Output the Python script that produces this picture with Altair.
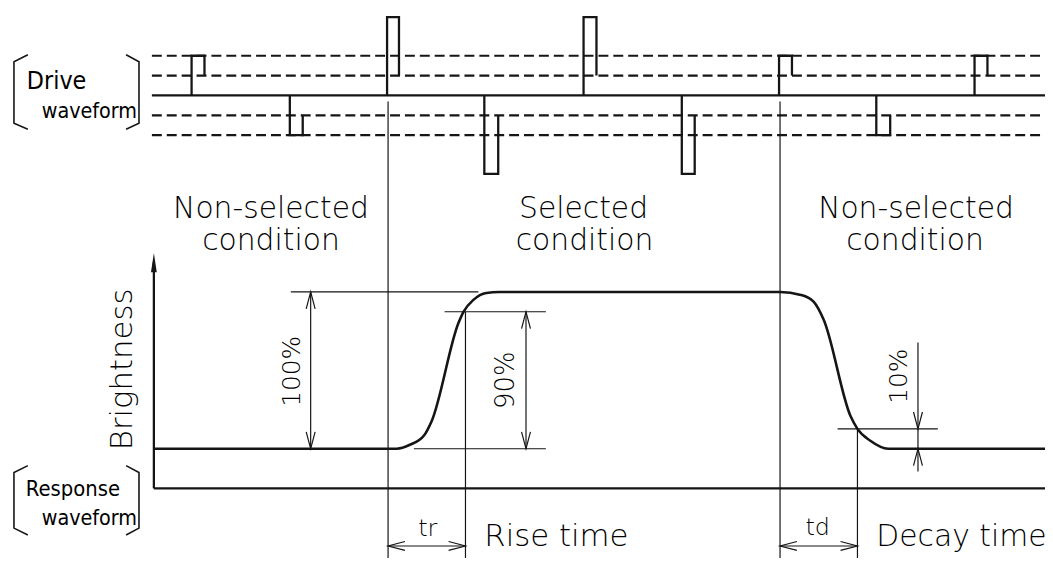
import altair as alt
import pandas as pd

# ---------------- diagram data (diagram units = picture coordinates) -------------
# Drive waveform
drive_x_start = 153
x_end = 1053
drive_base = 94
dash_levels = [54, 74, 114, 134]

# pulses: rising edge x, falling edge x, peak level, level after pulse
pulse_x0 = [193, 292, 390, 488, 588, 687, 785, 883, 982]
pulse_x1 = [206, 305, 402, 502, 601, 700, 798, 897, 995]
pulse_peak = [54, 134, 15, 173, 15, 173, 54, 134, 54]
pulse_settle = [74, 114, 74, 114, 74, 114, 74, 114, 74]

# Response waveform (brightness)
resp_x = [155, 400, 413, 427, 435, 462, 467, 477, 490, 503, 786, 807, 820, 830,
          857, 864, 877, 895, 1053]
resp_y = [450, 450, 446, 437, 422, 323, 312, 300, 293, 292, 292, 295, 302, 320,
          417, 430, 442, 450, 450]

# axes of the response plot
axis_x0 = 155
axis_base = 490
axis_top = 262
arrow_tip_y = 262.5

# brackets round the side labels
bracket_l_x = [28, 14, 14, 28]
bracket_r_x = [127, 140, 140, 127]
bracket_drive_y = [53, 60, 122, 128]
bracket_resp_y = [467, 474, 530, 537]

# thin construction / dimension lines: (x list, y list)
thin_lines = [
    ([391, 391], [100, 566]),   # selection start
    ([786, 786], [100, 566]),   # selection end
    ([469, 469], [312, 566]),   # tr end
    ([864, 864], [430, 566]),   # td end
    ([293, 482], [292, 292]),   # 100 % level
    ([417, 550], [450, 450]),   # 0 % level
    ([448, 550], [312, 312]),   # 90 % level
    ([844, 945], [430, 430]),   # 10 % level
    ([313, 313], [292, 450]),   # 100 % dimension
    ([530, 530], [312, 450]),   # 90 % dimension
    ([925, 925], [343, 473]),   # 10 % dimension
    ([391, 469], [548, 548]),   # tr dimension
    ([786, 864], [548, 548]),   # td dimension
]
# open arrow heads: (tip x, tip y, direction)
arrow_tips = [
    (313, 292, "up"), (313, 450, "down"),
    (530, 312, "up"), (530, 450, "down"),
    (925, 430, "down"), (925, 450, "up"),
    (391, 548, "left"), (469, 548, "right"),
    (786, 548, "left"), (864, 548, "right"),
]
head_len = 17
head_half = 4.5

NARROW = "Liberation Sans Narrow, DejaVu Sans Condensed, DejaVu Sans"
MAIN = "DejaVu Sans"
# labels: text, x, y, size, angle, align, baseline, font
labels = [
    ("Drive", 27, 88, 25, 0, "left", "alphabetic", NARROW),
    ("waveform", 42, 117, 21.5, 0, "left", "alphabetic", NARROW),
    ("Response", 26, 498, 22, 0, "left", "alphabetic", NARROW),
    ("waveform", 42, 527, 21.5, 0, "left", "alphabetic", NARROW),
    ("Non-selected", 273, 217, 30, 0, "center", "alphabetic", MAIN),
    ("condition", 273, 250, 30, 0, "center", "alphabetic", MAIN),
    ("Selected", 588, 217, 30, 0, "center", "alphabetic", MAIN),
    ("condition", 589, 250, 30, 0, "center", "alphabetic", MAIN),
    ("Non-selected", 923, 217, 30, 0, "center", "alphabetic", MAIN),
    ("condition", 922, 250, 30, 0, "center", "alphabetic", MAIN),
    ("Brightness", 124, 370, 31, 270, "center", "middle", MAIN),
    ("100%", 294, 372, 25, 270, "center", "middle", MAIN),
    ("90%", 510, 381, 26, 270, "center", "middle", MAIN),
    ("10%", 906, 377, 25, 270, "center", "middle", MAIN),
    ("tr", 431, 538, 24, 0, "center", "alphabetic", MAIN),
    ("td", 824, 537, 24, 0, "center", "alphabetic", MAIN),
    ("Rise time", 488, 548, 31, 0, "left", "alphabetic", MAIN),
    ("Decay time", 883, 548, 30, 0, "left", "alphabetic", MAIN),
]

# ---------------- build tables -------------
def polyline_rows(rows, pid, xs, ys):
    for i, (xv, yv) in enumerate(zip(xs, ys)):
        rows.append({"id": pid, "ord": i, "x": xv, "y": yv})

thick_rows = []
polyline_rows(thick_rows, "base", [drive_x_start, x_end], [drive_base, drive_base])
for k, (a, b, p, s) in enumerate(zip(pulse_x0, pulse_x1, pulse_peak, pulse_settle)):
    polyline_rows(thick_rows, f"pulse{k}", [a, a, b, b], [drive_base, p, p, s])
polyline_rows(thick_rows, "yaxis", [axis_x0, axis_x0], [axis_top, axis_base])
polyline_rows(thick_rows, "xaxis", [axis_x0, x_end], [axis_base, axis_base])
thick_df = pd.DataFrame(thick_rows)

dash_rows = []
for k, lv in enumerate(dash_levels):
    polyline_rows(dash_rows, f"dash{k}", [drive_x_start, x_end], [lv, lv])
dash_df = pd.DataFrame(dash_rows)

bracket_rows = []
polyline_rows(bracket_rows, "dl", bracket_l_x, bracket_drive_y)
polyline_rows(bracket_rows, "dr", bracket_r_x, bracket_drive_y)
polyline_rows(bracket_rows, "rl", bracket_l_x, bracket_resp_y)
polyline_rows(bracket_rows, "rr", bracket_r_x, bracket_resp_y)
bracket_df = pd.DataFrame(bracket_rows)

thin_rows = []
for k, (xs, ys) in enumerate(thin_lines):
    polyline_rows(thin_rows, f"t{k}", xs, ys)
for k, (tx, ty, d) in enumerate(arrow_tips):
    if d == "up":
        xs, ys = [tx - head_half, tx, tx + head_half], [ty + head_len, ty, ty + head_len]
    elif d == "down":
        xs, ys = [tx - head_half, tx, tx + head_half], [ty - head_len, ty, ty - head_len]
    elif d == "left":
        xs, ys = [tx + head_len, tx, tx + head_len], [ty - head_half, ty, ty + head_half]
    else:
        xs, ys = [tx - head_len, tx, tx - head_len], [ty - head_half, ty, ty + head_half]
    polyline_rows(thin_rows, f"h{k}", xs, ys)
thin_df = pd.DataFrame(thin_rows)

resp_df = pd.DataFrame({"x": resp_x, "y": resp_y})
tip_df = pd.DataFrame({"x": [axis_x0], "y": [arrow_tip_y]})

# ---------------- chart -------------
XS = alt.Scale(domain=[8, 1053], nice=False, zero=False)
YS = alt.Scale(domain=[8, 558], nice=False, zero=False, reverse=True)
INK = "#151515"
TEXT_INK = "#000000"


def enc(ch, **kw):
    return ch.encode(
        x=alt.X("x:Q", scale=XS, axis=None),
        y=alt.Y("y:Q", scale=YS, axis=None),
        **kw,
    )

layers = []
layers.append(enc(alt.Chart(dash_df).mark_line(color=INK, strokeWidth=2.2, strokeDash=[10, 5]),
                  detail="id:N", order="ord:Q"))
layers.append(enc(alt.Chart(thin_df).mark_line(color=INK, strokeWidth=1.2),
                  detail="id:N", order="ord:Q"))
layers.append(enc(alt.Chart(thick_df).mark_line(color=INK, strokeWidth=2.3, strokeJoin="miter"),
                  detail="id:N", order="ord:Q"))
layers.append(enc(alt.Chart(bracket_df).mark_line(color=INK, strokeWidth=1.6),
                  detail="id:N", order="ord:Q"))
layers.append(enc(alt.Chart(resp_df).mark_line(color=INK, strokeWidth=2.6, interpolate="monotone")))
layers.append(enc(alt.Chart(tip_df).mark_point(shape="M0,-1L0.3,1L-0.3,1Z", filled=True,
                                                  color=INK, opacity=1, size=380)))

for (t, xv, yv, fs, ang, al, bl, fnt) in labels:
    df = pd.DataFrame({"x": [xv], "y": [yv], "t": [t]})
    weight = 400 if fnt == NARROW else 200
    layers.append(enc(alt.Chart(df).mark_text(font=fnt, fontSize=fs, angle=ang, align=al,
                                              baseline=bl, color=TEXT_INK, fontWeight=weight),
                      text="t:N"))

chart = alt.layer(*layers).properties(
    width=1045, height=550, padding=0,
    autosize=alt.AutoSizeParams(type="none"),
    background="white",
).configure_view(stroke=None)

chart.save("out.html", embed_options={"renderer": "svg", "actions": False})
